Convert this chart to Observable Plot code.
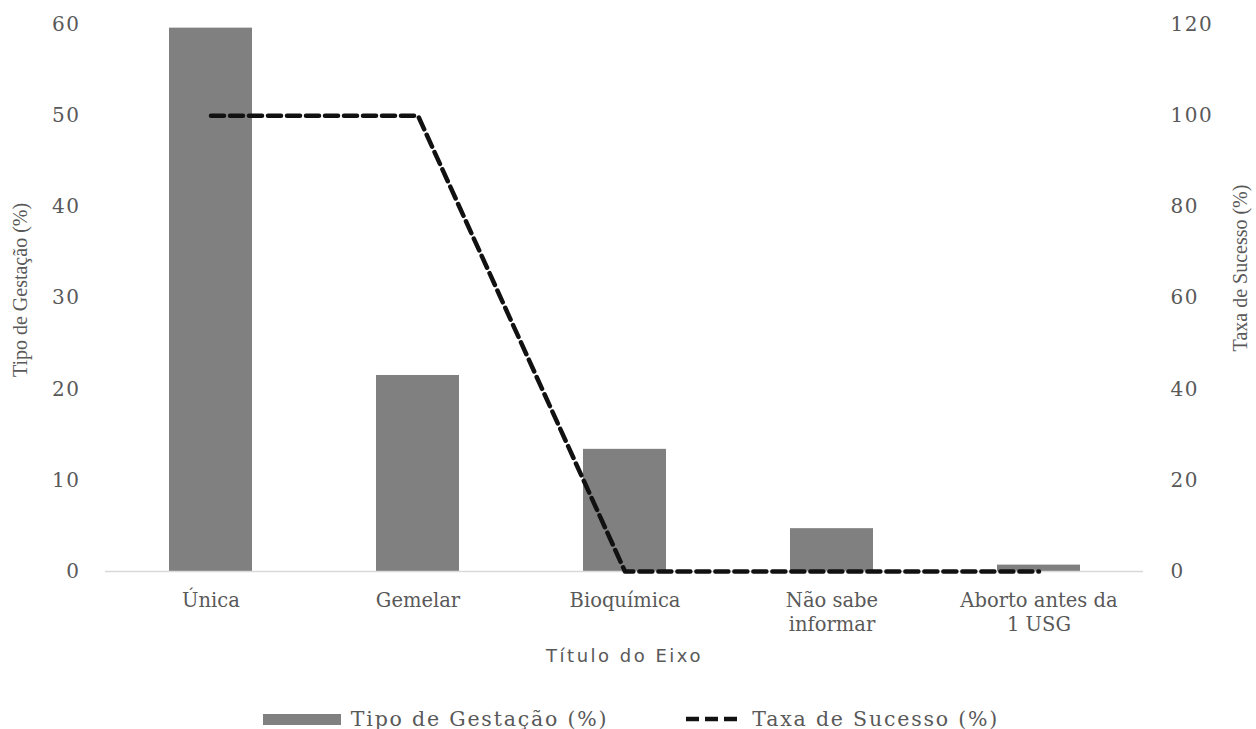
<!DOCTYPE html>
<html>
<head>
<meta charset="utf-8">
<script src="https://cdn.jsdelivr.net/npm/d3@7"></script>
<script src="https://cdn.jsdelivr.net/npm/@observablehq/plot@0.6"></script>
<style>
  html, body { margin: 0; padding: 0; background: #fff; }
  #chart svg { display: block; }
  #legend {
    height: 29px; display: flex; justify-content: center; align-items: center;
    font-family: "DejaVu Serif", serif; font-size: 20.5px; color: #595959; letter-spacing: 1.8px;
    margin-top: 4px; padding-left: 6px;
  }
  #legend .item { display: flex; align-items: center; }
  #legend .gap { width: 78px; }
</style>
</head>
<body>
<div id="chart"></div>
<div id="legend"></div>
<script>
// ---- data ----
const categories = ["Única", "Gemelar", "Bioquímica", "Não sabe informar", "Aborto antes da 1 USG"];
const categoryLabels = ["Única", "Gemelar", "Bioquímica", "Não sabe\ninformar", "Aborto antes da\n1 USG"];
const tipoGestacao = [59.6, 21.5, 13.4, 4.7, 0.7];
const taxaSucesso = [100, 100, 0, 0, 0];
const leftTicks = [0, 10, 20, 30, 40, 50, 60];
const rightTicks = [0, 20, 40, 60, 80, 100, 120];
const seriesNames = ["Tipo de Gestação (%)", "Taxa de Sucesso (%)"];
const xTitle = "Título do Eixo";

const leftMax = leftTicks[leftTicks.length - 1];
const rightMax = rightTicks[rightTicks.length - 1];
const ratio = leftMax / rightMax;

const data = categories.map((c, i) => ({cat: c, label: categoryLabels[i], tipo: tipoGestacao[i], taxa: taxaSucesso[i]}));

const textColor = "#595959";
const serif = "DejaVu Serif";

const chart = Plot.plot({
  width: 1256,
  height: 700,
  marginTop: 24,
  marginBottom: 129,
  marginLeft: 105,
  marginRight: 113,
  style: {fontFamily: serif, fontSize: "19px", color: textColor, background: "#fff"},
  x: {domain: categories, paddingInner: 0.6, paddingOuter: 0.3, axis: null},
  y: {domain: [0, leftMax], axis: null},
  marks: [
    Plot.barY(data, {x: "cat", y: "tipo", fill: "#808080"}),
    Plot.ruleY([0], {stroke: "#d9d9d9", strokeWidth: 1.5}),
    Plot.line(data, {x: "cat", y: d => d.taxa * ratio, stroke: "#111", strokeWidth: 4.5, strokeDasharray: "13,6"}),
    Plot.axisY({anchor: "left", ticks: leftTicks, tickSize: 0, tickPadding: 25, label: null,
      fill: textColor, fontSize: 20, fontFamily: serif}),
    Plot.axisY({anchor: "right", ticks: rightTicks.map(t => t * ratio), tickFormat: d => String(Math.round(d / ratio)),
      tickSize: 0, tickPadding: 27, label: null, fill: textColor, fontSize: 20, fontFamily: serif}),
    Plot.axisX({anchor: "bottom", tickSize: 0, tickPadding: 19, label: null,
      tickFormat: c => categoryLabels[categories.indexOf(c)], lineHeight: 1.22,
      fill: textColor, fontSize: 19.5, fontFamily: serif}),
    Plot.text([xTitle], {frameAnchor: "bottom", dy: 90, text: d => d, fill: textColor,
      fontSize: 18, fontFamily: "DejaVu Sans"}),
    Plot.text([seriesNames[0]], {frameAnchor: "left", textAnchor: "middle", dx: -85, dy: -8, rotate: -90, text: d => d,
      fill: textColor, fontSize: 20, fontFamily: "Liberation Serif"}),
    Plot.text([seriesNames[1]], {frameAnchor: "right", textAnchor: "middle", dx: 97, dy: -30, rotate: -90, text: d => d,
      fill: textColor, fontSize: 20, fontFamily: "Liberation Serif"})
  ]
});
// letter spacing tweaks (styling only)
chart.querySelectorAll("text").forEach(t => {
  if (t.textContent === xTitle) t.style.letterSpacing = "2.5px";
});
chart.querySelectorAll('g[aria-label="y-axis tick label"] text').forEach(t => t.style.letterSpacing = "1.5px");
document.getElementById("chart").appendChild(chart);

// legend
const legend = document.getElementById("legend");
legend.innerHTML = `
  <span class="item"><svg width="84" height="12" style="margin-right:4px"><rect x="0" y="1" width="78" height="11" fill="#808080"/></svg>${seriesNames[0]}</span>
  <span class="gap"></span>
  <span class="item"><svg width="58" height="12" style="margin-right:8px"><line x1="0" x2="52" y1="6" y2="6" stroke="#111" stroke-width="4.5" stroke-dasharray="13,6"/></svg>${seriesNames[1]}</span>`;
</script>
</body>
</html>
